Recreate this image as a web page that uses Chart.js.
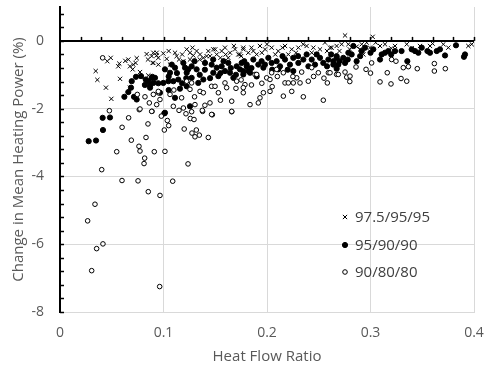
<!DOCTYPE html>
<html>
<head>
<meta charset="utf-8">
<script src="https://cdn.jsdelivr.net/npm/chart.js@4.4.1/dist/chart.umd.min.js"></script>
<style>
  html, body { margin: 0; padding: 0; background: #ffffff; }
  #wrap { width: 485px; height: 369px; }
</style>
</head>
<body>
<div id="wrap"><canvas id="chart" width="485" height="369"></canvas></div>
<script>
// series names
var seriesNames = ["97.5/95/95", "95/90/90", "90/80/80"];
var xTicks = [0, 0.1, 0.2, 0.3, 0.4];
var yTicks = [-8, -6, -4, -2, 0];

// 97.5/95/95 (crosses)
var crossX = [0.049, 0.0457, 0.0345, 0.0361, 0.0444, 0.0496, 0.0573, 0.0563, 0.0631, 0.0676,
    0.0702, 0.0741, 0.0676, 0.058, 0.0708, 0.0837, 0.0886, 0.0934, 0.0895, 0.0853,
    0.0773, 0.0902, 0.0934, 0.0902, 0.095, 0.0998, 0.1031, 0.1063, 0.1111, 0.1127,
    0.1192, 0.1224, 0.1256, 0.1288, 0.132, 0.1353, 0.1385, 0.1433, 0.1481, 0.1514,
    0.1562, 0.1594, 0.1643, 0.1691, 0.1723, 0.1771, 0.1819, 0.1256, 0.1417, 0.1626,
    0.1771, 0.1868, 0.1932, 0.1981, 0.2045, 0.2109, 0.2174, 0.2239, 0.2303, 0.2383,
    0.2448, 0.2512, 0.256, 0.2609, 0.2673, 0.1739, 0.19, 0.2206, 0.2432, 0.2754,
    0.3021, 0.2625, 0.2721, 0.2786, 0.2915, 0.2963, 0.2995, 0.3092, 0.314, 0.3237,
    0.335, 0.3478, 0.3575, 0.3704, 0.3978, 0.3945, 0.2931, 0.3752, 0.2866,
    0.105, 0.115, 0.118, 0.128, 0.135, 0.145, 0.150, 0.155, 0.160, 0.168,
    0.175, 0.185, 0.195, 0.200, 0.208, 0.215, 0.228, 0.235, 0.248, 0.258,
    0.270, 0.280, 0.290, 0.305, 0.320, 0.340, 0.360, 0.085, 0.095, 0.073, 0.066];
var crossY = [-0.50, -0.60, -0.89, -1.15, -1.38, -1.71, -0.67, -0.75, -0.59, -0.75,
    -0.84, -0.51, -1.38, -1.12, -0.70, -0.39, -0.45, -0.35, -0.65, -1.02,
    -0.92, -0.35, -0.43, -0.65, -0.70, -0.37, -0.53, -0.70, -0.35, -0.45,
    -0.60, -0.25, -0.35, -0.43, -0.30, -0.40, -0.50, -0.30, -0.25, -0.40,
    -0.30, -0.20, -0.35, -0.25, -0.40, -0.25, -0.35, -0.55, -0.45, -0.50,
    -0.20, -0.30, -0.15, -0.25, -0.20, -0.30, -0.15, -0.25, -0.20, -0.15,
    -0.20, -0.25, -0.05, -0.20, -0.15, -0.40, -0.40, -0.40, -0.35, 0.16,
    0.12, -0.20, -0.10, -0.10, -0.10, -0.05, -0.20, -0.15, -0.10, -0.15,
    -0.10, -0.15, -0.15, -0.10, -0.10, -0.15, -0.40, -0.20, -0.17,
    -0.30, -0.55, -0.40, -0.20, -0.55, -0.45, -0.25, -0.50, -0.40, -0.15,
    -0.45, -0.20, -0.35, -0.10, -0.40, -0.20, -0.35, -0.10, -0.40, -0.30,
    -0.30, -0.25, -0.25, -0.05, -0.22, -0.22, -0.08, -0.55, -0.50, -0.65, -0.55];

// 95/90/90 (filled circles)
var filledX = [0.0412, 0.0483, 0.0415, 0.0277, 0.0348, 0.1008, 0.0783, 0.0734, 0.0693, 0.0686,
    0.066, 0.0622, 0.0715, 0.0741, 0.0828, 0.0853, 0.087, 0.0892, 0.0918, 0.0886,
    0.0902, 0.087, 0.1014, 0.0998, 0.1047, 0.1095, 0.1143, 0.1063, 0.1111, 0.1192,
    0.1208, 0.1224, 0.1239, 0.1272, 0.132, 0.1272, 0.1336, 0.1385, 0.1401, 0.1465,
    0.1481, 0.1514, 0.153, 0.1562, 0.1594, 0.1626, 0.1643, 0.1675, 0.1707, 0.1739,
    0.1771, 0.1804, 0.1819, 0.1111, 0.1014, 0.1256, 0.1159, 0.1224, 0.0966, 0.1755,
    0.1771, 0.1804, 0.1836, 0.1868, 0.1916, 0.1948, 0.1965, 0.2013, 0.2045, 0.2093,
    0.2126, 0.2174, 0.2222, 0.2254, 0.2303, 0.2351, 0.2383, 0.2432, 0.2464, 0.2512,
    0.2544, 0.2593, 0.2641, 0.2673, 0.2109, 0.2254, 0.2834, 0.2786, 0.2818, 0.2737,
    0.2673, 0.2641, 0.2689, 0.2754, 0.2673, 0.2866, 0.2915, 0.2947, 0.3027, 0.3108,
    0.314, 0.3172, 0.3092, 0.3237, 0.3356, 0.3398, 0.343, 0.3462, 0.3495, 0.3575,
    0.364, 0.3671, 0.372, 0.3826, 0.3913, 0.3903,
    0.105, 0.108, 0.113, 0.118, 0.122, 0.130, 0.135, 0.140, 0.145, 0.148,
    0.155, 0.158, 0.165, 0.170, 0.178, 0.185, 0.190, 0.198, 0.205, 0.215,
    0.220, 0.230, 0.240, 0.248, 0.258, 0.262, 0.270, 0.278, 0.290, 0.300,
    0.320, 0.330, 0.355, 0.105, 0.095, 0.082];
var filledY = [-2.27, -2.26, -2.63, -2.96, -2.94, -2.14, -1.04, -1.06, -1.19, -1.38,
    -1.51, -1.65, -1.65, -1.73, -1.14, -1.19, -1.32, -1.06, -1.09, -1.09,
    -1.24, -1.38, -0.84, -1.24, -1.19, -1.19, -1.14, -0.94, -0.79, -0.65,
    -0.79, -0.94, -0.84, -0.75, -0.84, -1.09, -1.24, -1.14, -0.65, -0.70,
    -0.94, -0.79, -1.04, -0.75, -0.89, -0.65, -0.94, -1.09, -0.75, -0.84,
    -0.99, -0.70, -0.89, -1.68, -2.12, -1.93, -1.41, -1.34, -1.53, -0.65,
    -0.89, -0.75, -0.94, -0.55, -0.70, -0.60, -0.79, -0.50, -0.65, -0.60,
    -0.75, -0.55, -0.70, -0.50, -0.65, -0.55, -0.40, -0.55, -0.70, -0.50,
    -0.65, -0.55, -0.70, -0.50, -0.84, -0.89, -0.15, -0.35, -0.40, -0.50,
    -0.45, -0.60, -0.70, -0.65, -0.82, -0.60, -0.30, -0.20, -0.25, -0.40,
    -0.35, -0.30, -0.55, -0.30, -0.60, -0.25, -0.30, -0.35, -0.20, -0.35,
    -0.30, -0.25, -0.43, -0.13, -0.40, -0.47,
    -1.05, -0.70, -0.95, -1.25, -1.10, -0.60, -1.00, -0.85, -1.10, -0.55,
    -0.95, -0.60, -0.80, -1.00, -0.60, -0.80, -1.05, -0.70, -0.85, -0.45,
    -0.85, -0.45, -0.75, -0.40, -0.75, -0.40, -0.60, -0.55, -0.45, -0.35,
    -0.40, -0.30, -0.30, -1.45, -1.25, -1.30];

// 90/80/80 (open circles)
var openX = [0.0477, 0.0663, 0.0689, 0.0763, 0.0773, 0.0831, 0.0548, 0.0818, 0.0812, 0.0911,
    0.1014, 0.1008, 0.1037, 0.0979, 0.1237, 0.0403, 0.0599, 0.0754, 0.1089, 0.0853,
    0.0966, 0.0338, 0.0267, 0.0415, 0.0354, 0.0306, 0.0963, 0.1275, 0.1317, 0.1346,
    0.1304, 0.1433, 0.1217, 0.1259, 0.1295, 0.1272, 0.1378, 0.1472, 0.1659, 0.0889,
    0.0766, 0.0412, 0.0747, 0.0821, 0.0863, 0.0773, 0.0886, 0.095, 0.0934, 0.095,
    0.0966, 0.1063, 0.1095, 0.1175, 0.1224, 0.1272, 0.1256, 0.1353, 0.1385, 0.1465,
    0.1498, 0.153, 0.1594, 0.161, 0.1659, 0.1707, 0.1787, 0.1449, 0.1465, 0.1375,
    0.1659, 0.1304, 0.1192, 0.0902, 0.1771, 0.1771, 0.1884, 0.1997, 0.2029, 0.2045,
    0.2093, 0.2158, 0.2174, 0.2206, 0.2254, 0.2287, 0.2335, 0.2319, 0.2399, 0.2432,
    0.2496, 0.2593, 0.2583, 0.2673, 0.1965, 0.1932, 0.1916, 0.1836, 0.2029, 0.2239,
    0.2158, 0.2351, 0.2544, 0.19, 0.2609, 0.2689, 0.2754, 0.277, 0.2802, 0.286,
    0.2957, 0.3011, 0.3204, 0.3246, 0.3162, 0.3092, 0.3198, 0.3295, 0.335, 0.3317,
    0.3452, 0.3617, 0.3617, 0.3723, 0.3366,
    0.110, 0.115, 0.130, 0.140, 0.155, 0.170, 0.175, 0.185, 0.195, 0.205,
    0.210, 0.225, 0.245, 0.255, 0.280, 0.300, 0.105, 0.085, 0.120, 0.060];
var openY = [-2.06, -2.27, -2.93, -3.11, -3.25, -2.85, -3.27, -3.46, -3.62, -3.27,
    -3.26, -2.63, -2.35, -2.22, -3.63, -3.80, -4.12, -4.13, -4.14, -4.45,
    -4.56, -4.82, -5.31, -5.99, -6.13, -6.78, -7.25, -2.72, -2.63, -2.78,
    -2.83, -2.85, -2.15, -2.29, -2.32, -2.09, -2.08, -2.18, -2.09, -2.08,
    -2.03, -0.50, -1.58, -1.65, -1.83, -2.01, -2.08, -1.53, -1.88, -1.49,
    -1.73, -1.58, -1.93, -1.68, -1.19, -1.24, -1.43, -1.49, -1.53, -1.34,
    -1.34, -1.53, -1.24, -1.38, -1.78, -1.19, -1.29, -1.83, -2.17, -2.05,
    -2.08, -1.88, -1.98, -1.58, -1.38, -1.53, -0.99, -1.09, -1.14, -0.94,
    -0.84, -0.94, -1.24, -1.24, -1.24, -1.09, -0.92, -1.24, -1.19, -0.79,
    -0.94, -0.94, -1.24, -0.99, -1.53, -1.68, -1.83, -1.88, -1.49, -1.49,
    -1.63, -1.65, -1.75, -0.99, -0.94, -0.99, -0.92, -1.07, -1.04, -0.77,
    -0.84, -0.65, -0.55, -0.60, -0.94, -1.21, -1.27, -1.11, -1.19, -0.79,
    -0.82, -0.67, -0.89, -0.82, -0.76,
    -1.45, -2.05, -1.65, -1.90, -1.75, -1.40, -1.15, -1.30, -1.25, -1.35,
    -1.05, -1.05, -1.05, -1.10, -1.20, -0.95, -2.50, -2.45, -2.60, -2.55];

function makePoints(xs, ys) {
    var pts = [];
    for (var i = 0; i < xs.length; i++) {
        pts.push({ x: xs[i], y: ys[i] });
    }
    return pts;
}

var textColor = "#595959";
var gridColor = "#d9d9d9";

function noPadding(scale) {
    scale.paddingLeft = 0;
    scale.paddingRight = 0;
    scale.paddingTop = 0;
    scale.paddingBottom = 0;
}

// zero line with small tick marks, minor ticks on the y axis, and the legend inside the plot
var extrasPlugin = {
    id: "extras",
    afterDatasetsDraw: function (chart) {
        var ctx = chart.ctx;
        var xs = chart.scales.x;
        var ys = chart.scales.y;
        var area = chart.chartArea;
        ctx.save();
        ctx.strokeStyle = "#000000";

        // y axis minor ticks every 0.4
        ctx.lineWidth = 1.5;
        for (var v = -8; v <= 1.001; v += 0.4) {
            var py = Math.round(ys.getPixelForValue(v)) + 0.5;
            ctx.beginPath();
            ctx.moveTo(area.left, py);
            ctx.lineTo(area.left + 4, py);
            ctx.stroke();
        }

        // horizontal axis at y = 0
        var y0 = ys.getPixelForValue(0);
        ctx.lineWidth = 2;
        ctx.beginPath();
        ctx.moveTo(area.left, y0);
        ctx.lineTo(area.right, y0);
        ctx.stroke();
        ctx.lineWidth = 1.5;
        for (var k = 1; k <= 20; k++) {
            var px = Math.round(xs.getPixelForValue(k * 0.02)) + 0.5;
            ctx.beginPath();
            ctx.moveTo(px, y0);
            ctx.lineTo(px, y0 - 4);
            ctx.stroke();
        }

        // legend
        var ds = chart.data.datasets;
        var lx = 345;
        var lys = [217, 245, 272];
        ctx.font = "15px 'Open Sans', sans-serif";
        ctx.textBaseline = "middle";
        ctx.textAlign = "left";
        for (var i = 0; i < ds.length; i++) {
            ctx.fillStyle = ds[i].backgroundColor;
            ctx.strokeStyle = "#000000";
            ctx.lineWidth = 1;
            Chart.helpers.drawPoint(ctx, {
                pointStyle: ds[i].pointStyle,
                radius: ds[i].pointRadius,
                borderWidth: 1
            }, lx, lys[i]);
            ctx.fillStyle = "#404040";
            ctx.fillText(ds[i].label, lx + 10, lys[i] + 1);
        }
        ctx.restore();
    }
};

var ctx = document.getElementById("chart").getContext("2d");

var chart = new Chart(ctx, {
    type: "scatter",
    data: {
        datasets: [
            {
                label: seriesNames[0],
                data: makePoints(crossX, crossY),
                pointStyle: "crossRot",
                pointRadius: 3,
                borderColor: "#000000",
                backgroundColor: "#000000",
                borderWidth: 1,
                order: 3
            },
            {
                label: seriesNames[1],
                data: makePoints(filledX, filledY),
                pointStyle: "circle",
                pointRadius: 2.6,
                borderColor: "#000000",
                backgroundColor: "#000000",
                borderWidth: 1,
                order: 2
            },
            {
                label: seriesNames[2],
                data: makePoints(openX, openY),
                pointStyle: "circle",
                pointRadius: 2.3,
                borderColor: "#000000",
                backgroundColor: "#ffffff",
                borderWidth: 1,
                order: 1
            }
        ]
    },
    options: {
        responsive: false,
        animation: false,
        layout: { padding: { left: 0, right: 11, top: 7, bottom: 0 } },
        plugins: {
            legend: { display: false },
            tooltip: { enabled: false }
        },
        scales: {
            x: {
                type: "linear",
                min: 0,
                max: 0.4,
                afterBuildTicks: function (scale) {
                    scale.ticks = xTicks.map(function (v) { return { value: v }; });
                },
                afterFit: function (scale) { scale.height = 57; noPadding(scale); },
                grid: { color: gridColor, lineWidth: 1, drawTicks: false },
                border: { display: true, color: gridColor, width: 1 },
                ticks: {
                    color: textColor,
                    padding: 13,
                    font: { family: "'Open Sans', sans-serif", size: 14 },
                    callback: function (v) { return String(v); }
                },
                title: {
                    display: true,
                    text: "Heat Flow Ratio",
                    color: textColor,
                    font: { family: "'Open Sans', sans-serif", size: 15 },
                    padding: { top: 2, bottom: 3 }
                }
            },
            y: {
                type: "linear",
                min: -8,
                max: 1,
                afterBuildTicks: function (scale) {
                    scale.ticks = yTicks.map(function (v) { return { value: v }; });
                },
                afterFit: function (scale) { scale.width = 60; noPadding(scale); },
                grid: { color: gridColor, lineWidth: 1, drawTicks: false },
                border: { display: true, color: "#000000", width: 2 },
                ticks: {
                    color: textColor,
                    padding: 16,
                    font: { family: "'Open Sans', sans-serif", size: 14 },
                    callback: function (v) { return String(v); }
                },
                title: {
                    display: true,
                    text: "Change in Mean Heating Power (%)",
                    color: textColor,
                    font: { family: "'Open Sans', sans-serif", size: 15 },
                    padding: { top: 10, bottom: 0 }
                }
            }
        }
    },
    plugins: [extrasPlugin]
});
</script>
</body>
</html>
